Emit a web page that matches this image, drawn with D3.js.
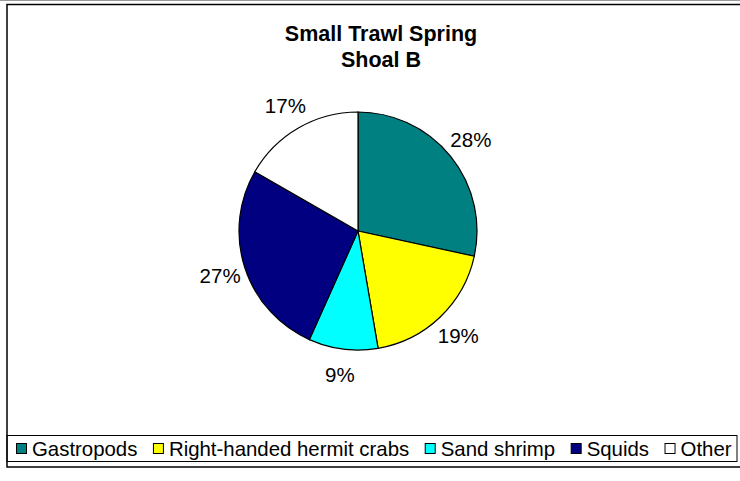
<!DOCTYPE html>
<html><head><meta charset="utf-8">
<script src="https://cdn.jsdelivr.net/npm/d3@7"></script>
<style>body{margin:0;background:#fff}svg{display:block}text{font-family:Arial,"Liberation Sans",sans-serif}</style>
</head><body>
<svg id="c" width="740" height="481"></svg>
<script>
const categories = ["Gastropods","Right-handed hermit crabs","Sand shrimp","Squids","Other"];
const values = [28.4, 18.9, 9.4, 26.6, 16.7];
const colors = ["#008080","#FFFF00","#00FFFF","#000080","#FFFFFF"];
const titleLines = ["Small Trawl Spring","Shoal B"];

const svg = d3.select("#c");
// chart frame
svg.append("line").attr("x1",0).attr("x2",740).attr("y1",0.5).attr("y2",0.5).attr("stroke","#999").attr("stroke-width",1);
svg.append("rect").attr("x",7).attr("y",4.5).attr("width",745).attr("height",462.5)
  .attr("fill","none").attr("stroke","#000").attr("stroke-width",1.5);

// title
svg.append("text").attr("x",381).attr("y",41).attr("text-anchor","middle")
  .attr("font-weight","bold").attr("font-size",21.5).text(titleLines[0]);
svg.append("text").attr("x",381).attr("y",67).attr("text-anchor","middle")
  .attr("font-weight","bold").attr("font-size",21.5).text(titleLines[1]);

// pie
const cx = 358, cy = 231, R = 119;
const total = d3.sum(values);
const pie = d3.pie().sort(null).value(d=>d)(values);
const arc = d3.arc().innerRadius(0).outerRadius(R);
const g = svg.append("g").attr("transform",`translate(${cx},${cy})`);
g.selectAll("path").data(pie).join("path")
  .attr("d",arc).attr("fill",(d,i)=>colors[i]).attr("stroke","#000").attr("stroke-width",1.2);
const labArc = d3.arc().innerRadius(145).outerRadius(145);
g.selectAll("text.lab").data(pie).join("text").attr("class","lab")
  .attr("transform",d=>`translate(${labArc.centroid(d)})`)
  .attr("text-anchor","middle").attr("dy","0.36em").attr("font-size",20.5)
  .text(d=>Math.round(d.value/total*100)+"%");

// legend
svg.append("rect").attr("x",7).attr("y",435.5).attr("width",730).attr("height",26)
  .attr("fill","none").attr("stroke","#000").attr("stroke-width",1);
let x = 16;
const lg = svg.append("g");
categories.forEach((c,i)=>{
  lg.append("rect").attr("x",x+0.5).attr("y",443.5).attr("width",10).attr("height",10)
    .attr("fill",colors[i]).attr("stroke","#000").attr("stroke-width",1);
  const t = lg.append("text").attr("x",x+16).attr("y",456).attr("font-size",20.4).text(c);
  x = x + 16 + t.node().getComputedTextLength() + 15.5;
});
</script>
</body></html>
